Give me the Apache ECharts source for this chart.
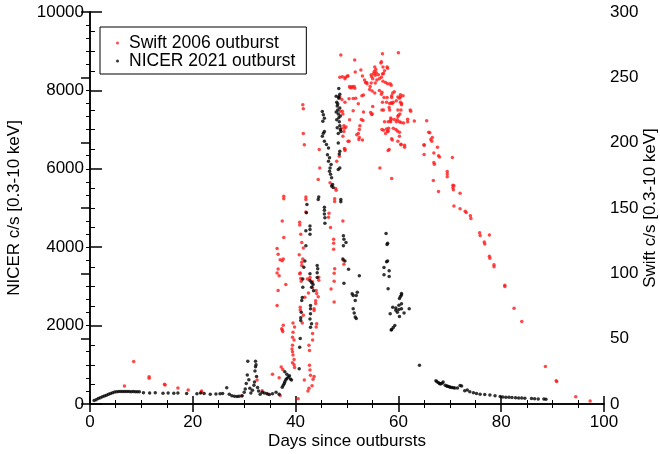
<!DOCTYPE html>
<html>
<head>
<meta charset="utf-8">
<script src="https://cdn.jsdelivr.net/npm/echarts@6/dist/echarts.min.js"></script>
<style>
    html, body { margin: 0; padding: 0; background: #fff; }
    #chart { width: 660px; height: 454px; }
</style>
</head>
<body>
<div id="chart"></div>
<script>
// NICER 2021 outburst, [day, c/s] (left axis)
const nicerEarly = [
    [0.8, 90], [1.2, 110], [1.6, 140], [2.0, 160], [2.4, 185], [2.8, 205], [3.2, 225], [3.6, 250],
    [4.0, 270], [4.4, 290], [4.8, 305], [5.2, 315], [5.6, 320], [6.0, 320], [6.4, 320], [6.8, 318],
    [7.2, 320], [7.6, 318], [8.0, 315], [8.4, 318], [8.8, 315], [9.2, 312], [9.6, 310],
    [10.4, 290], [11.6, 280], [12.7, 285], [14.2, 275], [15.2, 280], [16.3, 275], [17.1, 280],
    [18.8, 270], [20.8, 260], [21.5, 280], [22.2, 265], [23.4, 250], [24.5, 255], [25.3, 260],
    [25.8, 270], [26.6, 415], [27.1, 250], [27.6, 210], [28.1, 200], [28.6, 190], [29.0, 200],
    [29.6, 210], [30.0, 300]
];
const nicerSpike = [
    [30.2, 380], [30.4, 520], [30.6, 740], [30.7, 1090], [30.9, 620], [31.1, 400], [31.3, 280],
    [31.6, 350], [31.9, 480], [32.0, 560], [32.1, 840], [32.2, 950], [32.2, 1090], [32.3, 1000],
    [32.4, 700], [32.6, 420], [32.8, 330], [33.1, 250], [33.5, 300], [33.9, 280], [34.4, 270],
    [34.9, 240], [35.5, 260], [36.2, 300], [36.8, 250]
];
const nicerRise = [
    [37.4, 430], [37.6, 480], [37.8, 520], [37.9, 570], [38.1, 620], [38.3, 650], [38.6, 690],
    [38.8, 720], [39.0, 640], [39.2, 610], [37.9, 820], [38.3, 760],
    [40.7, 900], [40.8, 1450], [40.9, 1670], [41.0, 2130], [41.0, 2200], [41.1, 2340], [41.2, 2640],
    [41.3, 2720], [41.4, 2980], [41.4, 3190], [41.6, 3490], [41.8, 3650], [42.0, 4040], [42.0, 4420],
    [42.1, 4880], [42.2, 5090],
    [42.8, 4540], [42.8, 4330], [42.8, 4450], [42.9, 2510], [42.9, 2430], [42.9, 2300], [42.8, 2170],
    [43.1, 2050], [42.9, 1960], [42.8, 3320], [42.8, 3150], [43.1, 3100], [43.1, 2980], [43.4, 3050],
    [43.5, 2890], [44.2, 3230], [44.2, 3350], [44.3, 3450], [44.2, 3530],
    [44.4, 5220], [44.5, 5280], [45.6, 5020], [45.6, 4940], [45.6, 4850], [45.7, 4750], [45.7, 4610]
];
const nicerPeak = [
    [45.2, 7460], [45.4, 7380], [45.6, 7290], [45.3, 7210], [45.6, 6950], [45.4, 6910], [45.2, 6830],
    [45.6, 6700], [46.0, 6620], [46.2, 6360], [46.4, 6190], [46.7, 6020], [46.8, 5860], [47.0, 5770],
    [47.2, 5600], [47.0, 5560], [47.3, 5520], [46.4, 6530], [46.6, 6280], [46.9, 6110], [46.6, 5940],
    [47.9, 7850], [48.0, 7700], [48.1, 7600], [48.2, 7500], [48.3, 7400], [48.4, 7300], [48.5, 7200],
    [48.6, 7100], [48.7, 7000], [47.9, 7450], [48.0, 7250], [48.2, 7650], [48.4, 7800], [48.6, 7550],
    [48.7, 7350], [48.8, 6950], [48.3, 6900], [48.1, 7050], [48.4, 8050], [48.6, 7900], [48.4, 7840],
    [48.3, 6660], [48.6, 6450], [48.5, 6380], [48.3, 5980], [48.6, 6020], [48.8, 5220], [48.8, 5160],
    [49.3, 4290], [49.4, 4200], [49.8, 4120], [49.3, 4040], [49.2, 3700], [49.6, 3650], [50.3, 3440],
    [49.4, 3080], [52.4, 3270], [51.0, 2810], [51.2, 2770], [52.0, 2850], [51.8, 2770], [51.6, 2640],
    [51.2, 2430], [51.4, 2320], [51.6, 2220], [51.8, 2180]
];
const nicerLate = [
    [57.6, 4350], [57.8, 4070], [57.9, 4100], [57.7, 3630], [57.9, 3650], [57.2, 3480], [57.2, 3300],
    [58.2, 3400], [58.2, 3250], [58.0, 2940], [60.6, 2820], [60.4, 2740], [60.2, 2690], [60.6, 2780],
    [58.9, 2470], [59.5, 2450], [60.1, 2520], [60.1, 2410], [60.6, 2560], [62.1, 2430], [58.4, 2300],
    [59.5, 2390], [59.8, 2340], [60.6, 2430], [60.2, 2230], [61.1, 2320], [59.3, 2000], [59.0, 1950],
    [58.7, 1900], [58.6, 1890], [64.1, 990]
];
const nicerTail = [
    [67.3, 590], [67.5, 570], [67.8, 540], [68.0, 520], [68.2, 510], [68.5, 530], [68.7, 560],
    [69.1, 480], [69.4, 460], [69.6, 450], [69.9, 440], [70.1, 430], [70.4, 420], [70.7, 415],
    [71.0, 410], [71.5, 410], [72.0, 470], [72.3, 460], [72.9, 340], [73.4, 360], [73.9, 310],
    [74.6, 290], [75.2, 270], [75.9, 250], [76.8, 240], [77.8, 230], [78.8, 210], [79.8, 190],
    [80.3, 180], [80.9, 175], [81.5, 170], [82.1, 165], [82.8, 160], [83.4, 155], [84.0, 150],
    [84.6, 145], [85.9, 140], [86.5, 135], [87.2, 130], [88.3, 125], [88.7, 120]
];

// Swift 2006 outburst, [day, c/s] (right axis)
const swiftEarly = [
    [6.7, 13.7], [8.5, 32.5], [11.5, 20.8], [11.5, 19.8], [14.5, 15.2], [14.6, 14.5], [17.1, 12.2],
    [19.1, 10.7], [21.7, 9.9], [21.7, 8.9], [29.5, 6.1], [32.5, 18.3], [33.5, 10.1], [34.6, 7.4],
    [35.5, 22.8], [36.8, 20.0], [37.0, 6.6], [37.2, 28.4], [37.5, 26.4]
];
const swiftRise = [
    [36.4, 119], [36.6, 114.7], [37.0, 110.4], [37.4, 109.6], [37.6, 111], [36.6, 103.3], [36.4, 100.3],
    [36.8, 98.2], [38.1, 91.4], [36.6, 86.8], [36.4, 75.4], [37.4, 140], [37.7, 158.9], [37.7, 157],
    [37.7, 127.4], [37.4, 56.6], [37.3, 57.5], [37.5, 55.5], [37.6, 60.2],
    [41.4, 229], [41.5, 226], [41.5, 207], [41.7, 198.5], [42.0, 158.4], [42.0, 156.5], [42.0, 147],
    [40.8, 139], [40.8, 137], [41.0, 130], [41.2, 123.6], [41.5, 119.3], [40.7, 114.2], [41.4, 111],
    [41.2, 108.5], [41.2, 106], [40.9, 100.3], [40.8, 99.6], [41.0, 96], [41.1, 94],
    [39.5, 62], [39.8, 59], [39.5, 55], [39.4, 51], [39.7, 49], [39.4, 45], [39.3, 42], [39.4, 40],
    [39.5, 37.5], [39.7, 34], [39.4, 31.5], [39.7, 30], [39.8, 28],
    [40.9, 74], [40.9, 72], [41.3, 62], [41.5, 68], [41.8, 81.7], [42.3, 95.7], [42.5, 85], [42.8, 96.9],
    [43.3, 93.6], [43.3, 89], [44.0, 86.8], [44.1, 84.5], [43.9, 79], [43.9, 77], [43.6, 72.8],
    [43.6, 71.6], [44.1, 61.4], [44.0, 58.9], [43.3, 54], [43.3, 49], [42.6, 45], [42.7, 41],
    [42.7, 29.7], [42.8, 26], [42.9, 22], [43.4, 19], [43.6, 21], [43.2, 14], [42.6, 12], [42.4, 10],
    [41.7, 18.3], [40.5, 4]
];
const swiftPeak = [
    [44.6, 194.7], [44.7, 180.7], [44.4, 171.8], [46.7, 169.3], [47.8, 165], [47.9, 163.5], [46.5, 146],
    [46.4, 143], [47.6, 157], [47.6, 155], [46.8, 135], [47.4, 126], [47.4, 123], [49.2, 140],
    [47.4, 118.5], [49.3, 110], [49.4, 107], [47.6, 103.5], [47.5, 100], [46.9, 88], [47.5, 94],
    [47.5, 78], [44.4, 82], [44.5, 97], [44.5, 94.8],
    [48.6, 250], [49.1, 250.5], [49.7, 250], [50.2, 251], [50.5, 243], [51.0, 243], [51.4, 243],
    [48.6, 235], [49.0, 233], [49.6, 231], [48.7, 224], [49.2, 222], [49.4, 213], [48.9, 211],
    [49.8, 212], [49.2, 205], [50.2, 201], [49.6, 194], [49.5, 195.5], [48.5, 189.6], [48.0, 185.8],
    [48.8, 267], [56.9, 268], [60.0, 268.8], [51.5, 263.2], [56.6, 261], [57.8, 258], [55.4, 258],
    [55.6, 256], [55.3, 254.5], [55.2, 253], [55.7, 253.5], [55.5, 251.5], [52.7, 255.6], [51.6, 254],
    [54.7, 252], [56.1, 252], [56.9, 252.5], [56.3, 249], [56.7, 250], [55.8, 248], [54.8, 250.5],
    [55.0, 249], [53.0, 251], [50.1, 251], [49.6, 249], [53.4, 248], [53.6, 246], [53.8, 246],
    [53.9, 245], [57.0, 247], [57.5, 246], [57.9, 245], [58.4, 245], [58.6, 244], [54.5, 243],
    [54.7, 245.7], [55.5, 245.7], [50.6, 242], [50.9, 242], [51.5, 241.6], [54.4, 240.6], [54.9, 239.5],
    [55.4, 238], [56.3, 240], [56.8, 238.5], [56.7, 237], [59.2, 239], [60.4, 235], [60.9, 236],
    [59.9, 235], [60.2, 234], [53.2, 236.5], [52.9, 236], [50.4, 233.7], [51.2, 233.8], [51.7, 234],
    [57.2, 234.5], [57.8, 234.5], [58.7, 234.5], [56.9, 231], [57.7, 231], [58.3, 230], [58.8, 230],
    [59.6, 232], [60.4, 231], [60.6, 230], [52.2, 229.7], [55.0, 227.7], [58.2, 227], [56.8, 225],
    [57.1, 225], [58.3, 225], [59.9, 225], [60.5, 225], [62.3, 225], [51.2, 224.4], [49.1, 224],
    [53.2, 223.5], [54.9, 222], [54.6, 223], [54.8, 221.6], [60.0, 221], [60.3, 222], [59.9, 220],
    [52.8, 217.7], [53.1, 217], [50.5, 217.6], [57.3, 216], [58.0, 216], [58.4, 216.5], [58.5, 216],
    [59.6, 216], [60.2, 216], [61.8, 216], [63.1, 216.5], [56.8, 210], [57.1, 209.5], [57.7, 210.5],
    [59.0, 211], [59.5, 210], [57.9, 208.6], [52.5, 213], [52.4, 210], [49.5, 211], [49.4, 208.5],
    [52.2, 207], [51.9, 206], [59.8, 209], [60.2, 208], [57.5, 207], [53.0, 202], [52.4, 204],
    [52.3, 202.5], [58.8, 202], [60.2, 205], [59.9, 201], [60.5, 198.5], [58.2, 194.7], [61.2, 196.4],
    [50.4, 201], [49.6, 195], [57.1, 253], [57.9, 257], [58.7, 236], [58.9, 238], [60.4, 236.6],
    [60.6, 229], [59.0, 231], [58.6, 230.5], [62.4, 224], [61.8, 218], [60.5, 215.5], [61.0, 215],
    [58.5, 218.8], [58.6, 218], [59.2, 217.8], [59.8, 217.5], [58.0, 209], [58.1, 211], [58.7, 203],
    [58.0, 194], [60.5, 198.7], [61.2, 198], [58.7, 172.6], [56.4, 180.7], [56.7, 262], [57.0, 258],
    [57.3, 255]
];
const swiftDecline = [
    [65.5, 216.8], [65.9, 208], [66.1, 207.5], [66.6, 204], [66.3, 202.5], [66.5, 201], [65.0, 198.5],
    [65.0, 198], [67.6, 196.4], [66.9, 192], [67.8, 190], [68.0, 189], [65.0, 191], [66.9, 184.8],
    [67.0, 183.5], [70.5, 188.6], [69.5, 178], [69.5, 176], [69.5, 174], [66.8, 171], [70.6, 167.5],
    [70.8, 167], [70.6, 165.5], [70.7, 164], [67.8, 162.7], [72.0, 161.2], [70.8, 151.5], [72.0, 149.5],
    [73.0, 147.5], [73.2, 146.5], [74.0, 144], [74.1, 142], [75.8, 131], [75.9, 129], [77.7, 129.4],
    [76.7, 124], [76.8, 122.5], [77.7, 113], [77.8, 111.5], [78.6, 106.5], [78.6, 105], [80.7, 90.8],
    [80.7, 90], [82.5, 73.3], [84.0, 63.2], [88.6, 28.7], [90.7, 17.8], [90.8, 17.2], [94.5, 5.6],
    [97.3, 2.3]
];

const nicerPoints = [...nicerEarly, ...nicerSpike, ...nicerRise, ...nicerPeak, ...nicerLate, ...nicerTail];
const swiftPoints = [...swiftEarly, ...swiftRise, ...swiftPeak, ...swiftDecline];

const FONT = 'Liberation Sans, Arial, Helvetica, sans-serif';
const axisLine = { show: true, lineStyle: { color: '#000', width: 1.5 } };
const plainNumber = v => String(v);

const chart = echarts.init(document.getElementById('chart'), null, { renderer: 'canvas' });

const option = {
    animation: false,
    backgroundColor: '#fff',
    textStyle: { fontFamily: FONT, color: '#000' },
    grid: { left: 90, right: 56, top: 12, bottom: 50, outerBoundsMode: 'none' },
    legend: {
        orient: 'vertical',
        left: 100,
        top: 27,
        padding: [7, 11, 4, 16],
        itemGap: 0,
        itemWidth: 3,
        itemHeight: 3,
        borderColor: '#000',
        borderWidth: 1,
        textStyle: { fontSize: 17.5, lineHeight: 18, color: '#000', fontFamily: FONT, padding: [0, 0, 0, 5] },
        data: [
            { name: 'Swift 2006 outburst', icon: 'circle' },
            { name: 'NICER 2021 outburst', icon: 'circle' }
        ]
    },
    xAxis: [
        {
            type: 'value',
            min: 0, max: 100, interval: 20,
            position: 'bottom',
            name: 'Days since outbursts',
            nameLocation: 'middle',
            nameGap: 29,
            nameMoveOverlap: false,
            nameTextStyle: { fontSize: 17, color: '#000', fontFamily: FONT },
            axisLine: axisLine,
            axisTick: { inside: true, length: 8, lineStyle: { color: '#000', width: 1.5 } },
            minorTick: { show: true, splitNumber: 4, length: 4, lineStyle: { color: '#000', width: 1 } },
            axisLabel: { fontSize: 17, color: '#000', margin: 10, fontFamily: FONT, formatter: plainNumber },
            splitLine: { show: false }
        },
        {
            type: 'value',
            min: 0, max: 100, interval: 20,
            position: 'top',
            axisLine: axisLine,
            axisTick: { inside: true, length: 8, lineStyle: { color: '#000', width: 1.5 } },
            minorTick: { show: true, splitNumber: 4, length: 4, lineStyle: { color: '#000', width: 1 } },
            axisLabel: { show: false },
            splitLine: { show: false }
        }
    ],
    yAxis: [
        {
            type: 'value',
            min: 0, max: 10000, interval: 2000,
            position: 'left',
            name: 'NICER c/s [0.3-10 keV]',
            nameLocation: 'middle',
            nameRotate: 90,
            nameGap: 67,
            nameMoveOverlap: false,
            nameTextStyle: { fontSize: 17, color: '#000', fontFamily: FONT },
            axisLine: axisLine,
            axisTick: { inside: true, length: 12, lineStyle: { color: '#000', width: 1.5 } },
            minorTick: { show: true, splitNumber: 4, length: 5, lineStyle: { color: '#000', width: 1 } },
            axisLabel: { fontSize: 17, color: '#000', margin: 6, fontFamily: FONT, formatter: plainNumber },
            splitLine: { show: false }
        },
        {
            type: 'value',
            min: 0, max: 300, interval: 50,
            position: 'right',
            name: 'Swift c/s [0.3-10 keV]',
            nameLocation: 'middle',
            nameRotate: 90,
            nameGap: 38,
            nameMoveOverlap: false,
            nameTextStyle: { fontSize: 17, color: '#000', fontFamily: FONT },
            axisLine: axisLine,
            axisTick: { inside: true, length: 9, lineStyle: { color: '#000', width: 1.5 } },
            minorTick: { show: true, splitNumber: 5, length: 4, lineStyle: { color: '#000', width: 1 } },
            axisLabel: { fontSize: 17, color: '#000', margin: 6, fontFamily: FONT, formatter: plainNumber },
            splitLine: { show: false }
        }
    ],
    series: [
        {
            name: 'Swift 2006 outburst',
            type: 'scatter',
            xAxisIndex: 0,
            yAxisIndex: 1,
            symbol: 'circle',
            symbolSize: 3.5,
            itemStyle: { color: '#ff1a1a' },
            data: swiftPoints
        },
        {
            name: 'NICER 2021 outburst',
            type: 'scatter',
            xAxisIndex: 0,
            yAxisIndex: 0,
            symbol: 'circle',
            symbolSize: 3.5,
            itemStyle: { color: '#000' },
            data: nicerPoints
        }
    ]
};

chart.setOption(option);
</script>
</body>
</html>
